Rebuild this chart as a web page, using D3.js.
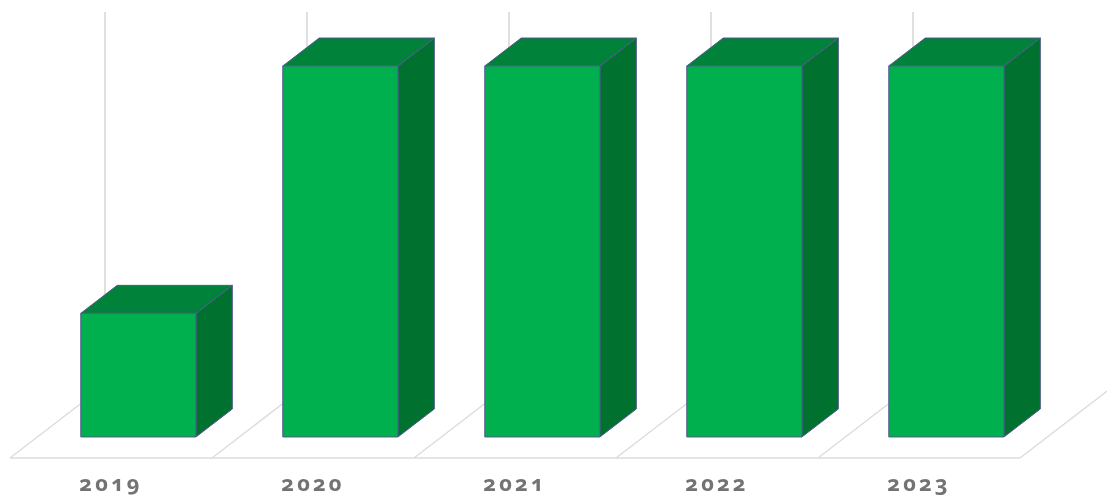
<!DOCTYPE html>
<html>
<head>
<meta charset="utf-8">
<script src="https://cdn.jsdelivr.net/npm/d3@7"></script>
<style>
  html, body { margin: 0; padding: 0; background: #ffffff; }
  svg { display: block; }
  .tick-label {
    font-family: "Noto Sans", "Open Sans", sans-serif;
    font-weight: 700;
    font-variant-numeric: oldstyle-nums;
    font-feature-settings: "onum" 1;
  }
</style>
</head>
<body>
<svg id="chart" width="1107" height="500"></svg>
<script>
// Yearly values, one bar per year
const categories = ["2019", "2020", "2021", "2022", "2023"];
const values = [1, 3, 3, 3, 3];
const yTicks = [0, 1, 2, 3];

const W = 1107, H = 500;
const floorY = 458;          // front edge of the floor
const depthX = 95, depthY = 73;  // full floor depth as a screen offset
const barFront = 0.288, barBack = 0.671; // bar depth as fractions of floor depth
const barFrac = 0.57;        // bar width as share of a category slot

const colors = { front: "#00b050", top: "#00823a", side: "#00712f", edge: "#52598e" };

const svg = d3.select("#chart");

// soft rendering of the whole drawing
svg.append("defs").append("filter").attr("id", "soft")
  .append("feGaussianBlur").attr("stdDeviation", 0.55);
const root = svg.append("g").attr("filter", "url(#soft)");

const x = d3.scaleBand().domain(categories).range([10, 1020]).padding(0);
const h = d3.scaleLinear().domain([0, d3.max(yTicks)]).range([0, 371]);

// project a point: front-plane x, height above floor, depth fraction
function P(px, ht, t) {
  return [px + t * depthX, floorY - t * depthY - ht];
}

const grid = root.append("g");
const bounds = categories.map(c => x(c)).concat([x(categories[categories.length - 1]) + x.bandwidth()]);

// back-wall vertical lines at each category boundary
grid.selectAll("line.wall").data(bounds).join("line")
  .attr("class", "wall")
  .attr("x1", d => P(d, 0, 1)[0]).attr("y1", d => P(d, 0, 1)[1])
  .attr("x2", d => P(d, h(d3.max(yTicks)), 1)[0]).attr("y2", d => P(d, h(d3.max(yTicks)), 1)[1] - 2)
  .attr("stroke", "#e0e0e0").attr("stroke-width", 2);

// floor: depth lines at each boundary plus the front edge
grid.selectAll("line.floor").data(bounds).join("line")
  .attr("class", "floor")
  .attr("x1", d => P(d, 0, 0)[0]).attr("y1", d => P(d, 0, 0)[1])
  .attr("x2", d => P(d, 0, 1)[0]).attr("y2", d => P(d, 0, 1)[1])
  .attr("stroke", "#dcdcdc").attr("stroke-width", 1.5);

grid.append("line")
  .attr("x1", bounds[0]).attr("y1", floorY)
  .attr("x2", bounds[bounds.length - 1]).attr("y2", floorY)
  .attr("stroke", "#dcdcdc").attr("stroke-width", 1.5);

// bars as three visible faces
const bars = root.append("g").selectAll("g").data(categories.map((c, i) => ({ c, v: values[i] }))).join("g");
const poly = pts => pts.map(p => p.join(",")).join(" ");

bars.each(function (d) {
  const g = d3.select(this);
  const bw = x.bandwidth() * barFrac;
  const x0 = x(d.c) + (x.bandwidth() - bw) / 2;
  const x1 = x0 + bw;
  const ht = h(d.v);
  const front = [P(x0, 0, barFront), P(x1, 0, barFront), P(x1, ht, barFront), P(x0, ht, barFront)];
  const top = [P(x0, ht, barFront), P(x1, ht, barFront), P(x1, ht, barBack), P(x0, ht, barBack)];
  const side = [P(x1, 0, barFront), P(x1, 0, barBack), P(x1, ht, barBack), P(x1, ht, barFront)];
  g.append("polygon").attr("points", poly(side)).attr("fill", colors.side)
    .attr("stroke", colors.edge).attr("stroke-width", 1).attr("stroke-linejoin", "round");
  g.append("polygon").attr("points", poly(top)).attr("fill", colors.top)
    .attr("stroke", colors.edge).attr("stroke-width", 1).attr("stroke-linejoin", "round");
  g.append("polygon").attr("points", poly(front)).attr("fill", colors.front)
    .attr("stroke", colors.edge).attr("stroke-width", 1).attr("stroke-linejoin", "round");
});

// category labels under the floor
root.append("g").selectAll("text").data(categories).join("text")
  .attr("class", "tick-label")
  .attr("x", d => x(d) + x.bandwidth() / 2)
  .attr("y", 491)
  .attr("text-anchor", "middle")
  .attr("font-size", 22)
  .attr("letter-spacing", 3)
  .attr("fill", "#737373")
  .text(d => d);
</script>
</body>
</html>
